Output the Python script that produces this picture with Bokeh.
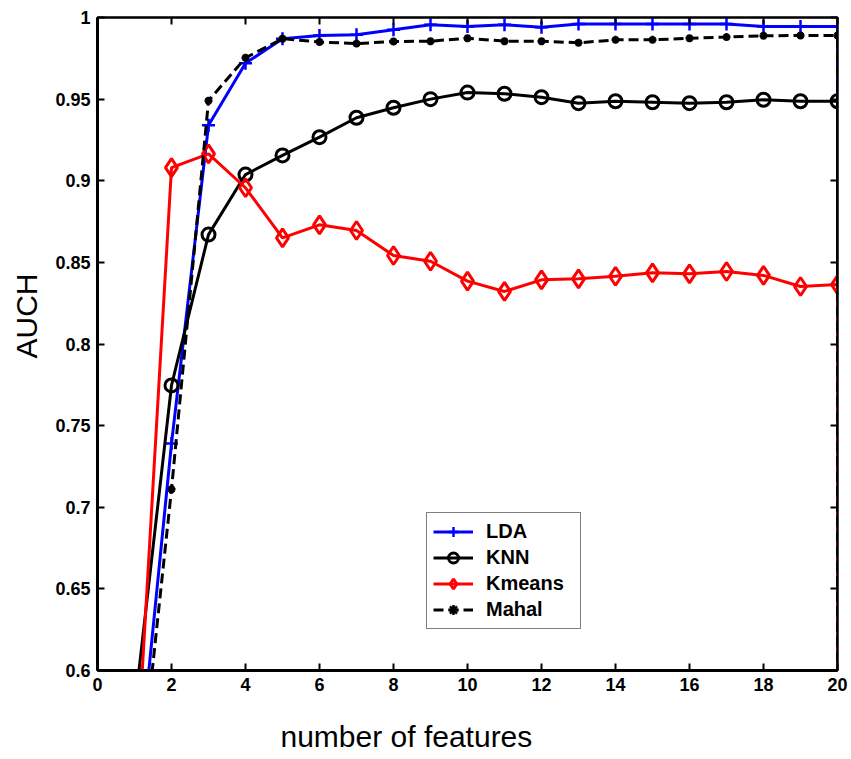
from bokeh.plotting import figure
from bokeh.models import (Range1d, LinearAxis, FixedTicker, Title, Legend, LegendItem,
                          CustomLabelingPolicy)
from bokeh.embed import file_html
from bokeh.resources import INLINE

# ---- data ----
features = [1, 2, 3, 4, 5, 6, 7, 8, 9, 10, 11, 12, 13, 14, 15, 16, 17, 18, 19, 20, 20]
lda = [0.512, 0.739, 0.934, 0.972, 0.987, 0.989, 0.9894, 0.9925, 0.9955, 0.9945,
       0.9955, 0.994, 0.996, 0.996, 0.996, 0.996, 0.996, 0.9945, 0.9945, 0.9945, 0.5]
knn = [0.576, 0.7746, 0.867, 0.9038, 0.9155, 0.9267, 0.9386, 0.9447, 0.950, 0.954,
       0.9533, 0.9512, 0.9475, 0.9487, 0.9481, 0.9475, 0.9481, 0.9496, 0.9487, 0.9487, 0.5]
kmeans = [0.518, 0.908, 0.9165, 0.8957, 0.865, 0.873, 0.8695, 0.8542, 0.8507, 0.8385,
          0.8322, 0.8393, 0.8399, 0.8415, 0.8436, 0.843, 0.8444, 0.842, 0.8352, 0.8364, 0.5]
mahal = [0.498, 0.711, 0.949, 0.9753, 0.987, 0.985, 0.984, 0.9853, 0.9855, 0.9873,
         0.9855, 0.9855, 0.9845, 0.9863, 0.9863, 0.9873, 0.988, 0.9888, 0.989, 0.989, 0.5]

x_ticks = [0, 2, 4, 6, 8, 10, 12, 14, 16, 18, 20]
x_tick_labels = ["0", "2", "4", "6", "8", "10", "12", "14", "16", "18", "20"]
y_ticks = [0.6, 0.65, 0.7, 0.75, 0.8, 0.85, 0.9, 0.95, 1.0]
y_tick_labels = ["0.6", "0.65", "0.7", "0.75", "0.8", "0.85", "0.9", "0.95", "1"]

series_names = ["LDA", "KNN", "Kmeans", "Mahal"]
x_title = "number of features"
y_title = "AUCH"

# ---- figure ----
p = figure(width=851, height=759, x_range=Range1d(0, 20), y_range=Range1d(0.6, 1.0),
           output_backend="svg", toolbar_location=None,
           min_border_left=97, min_border_right=14, min_border_top=17, min_border_bottom=89)
p.background_fill_color = "white"
p.border_fill_color = "white"
p.xgrid.visible = False
p.ygrid.visible = False
p.outline_line_color = "black"
p.outline_line_width = 2

tick_font = "Liberation Sans"
for ax in (p.xaxis[0], p.yaxis[0]):
    ax.axis_line_width = 3
    ax.major_tick_in = 7
    ax.major_tick_out = 0
    ax.minor_tick_in = 0
    ax.minor_tick_out = 0
    ax.major_tick_line_width = 2
    ax.major_label_text_font = tick_font
    ax.major_label_text_font_style = "bold"
    ax.major_label_text_font_size = "18px"
    ax.major_label_text_color = "black"
    ax.major_label_standoff = 7

p.xaxis[0].ticker = FixedTicker(ticks=x_ticks)
p.xaxis[0].major_label_overrides = {t: l for t, l in zip(x_ticks, x_tick_labels)}
p.yaxis[0].ticker = FixedTicker(ticks=y_ticks)
p.yaxis[0].major_label_overrides = {t: l for t, l in zip(y_ticks, y_tick_labels)}

# box axes (top/right) with inward ticks, labels suppressed
def box_axis(ticks):
    return LinearAxis(ticker=FixedTicker(ticks=ticks), major_label_text_font_size="1px",
                      major_label_policy=CustomLabelingPolicy(code="return []"),
                      major_label_standoff=0, major_tick_in=7, major_tick_out=0,
                      minor_tick_in=0, minor_tick_out=0, axis_line_width=2,
                      major_tick_line_width=2)

p.add_layout(box_axis(x_ticks), "above")
p.add_layout(box_axis(y_ticks), "right")

# invisible spacer below the x axis, pushing the x title down
spacer = LinearAxis(ticker=FixedTicker(ticks=x_ticks), major_label_text_font_size="1px",
                    major_label_policy=CustomLabelingPolicy(code="return []"),
                    major_label_standoff=0, major_tick_in=0, major_tick_out=18,
                    minor_tick_in=0, minor_tick_out=0, axis_line_color=None,
                    major_tick_line_color=None, minor_tick_line_color=None)
p.add_layout(spacer, "below")

# axis titles
p.add_layout(Title(text=x_title, align="left", offset=183, vertical_align="bottom",
                   text_font="Liberation Sans", text_font_style="normal",
                   text_font_size="30px", text_color="black", standoff=4), "below")
p.add_layout(Title(text=y_title, align="right", offset=256, vertical_align="top",
                   text_font="Liberation Sans", text_font_style="normal",
                   text_font_size="30px", text_color="black", standoff=16), "left")

# ---- series ----
items = []
r1 = p.line(features, lda, line_color="#0000FF", line_width=3)
m1 = p.scatter(features, lda, marker="cross", size=13, line_color="#0000FF", line_width=2.5)
items.append(LegendItem(label=series_names[0], renderers=[r1, m1]))

r2 = p.line(features, knn, line_color="black", line_width=3)
m2 = p.scatter(features, knn, marker="circle", size=13, line_color="black", line_width=3,
               fill_color=None)
items.append(LegendItem(label=series_names[1], renderers=[r2, m2]))

r3 = p.line(features, kmeans, line_color="#FF0000", line_width=3)
m3 = p.scatter(features, kmeans, marker="diamond", size=18, line_color="#FF0000", line_width=3,
               fill_color=None)
items.append(LegendItem(label=series_names[2], renderers=[r3, m3]))

r4 = p.line(features, mahal, line_color="black", line_width=3, line_dash="10 5")
m4 = p.scatter(features, mahal, marker="asterisk", size=8, line_color="black", line_width=2.5)
items.append(LegendItem(label=series_names[3], renderers=[r4, m4]))

legend = Legend(items=items, location=(329, 41),
                label_text_font=tick_font, label_text_font_style="bold",
                label_text_font_size="20px", label_text_color="black",
                glyph_width=40, glyph_height=25, label_height=25, label_width=88,
                label_standoff=13, spacing=1, padding=6, margin=0,
                border_line_color="black", border_line_width=1.5,
                background_fill_color="white", background_fill_alpha=1)
p.add_layout(legend, "center")

open("out.html", "w").write(file_html(p, INLINE))
